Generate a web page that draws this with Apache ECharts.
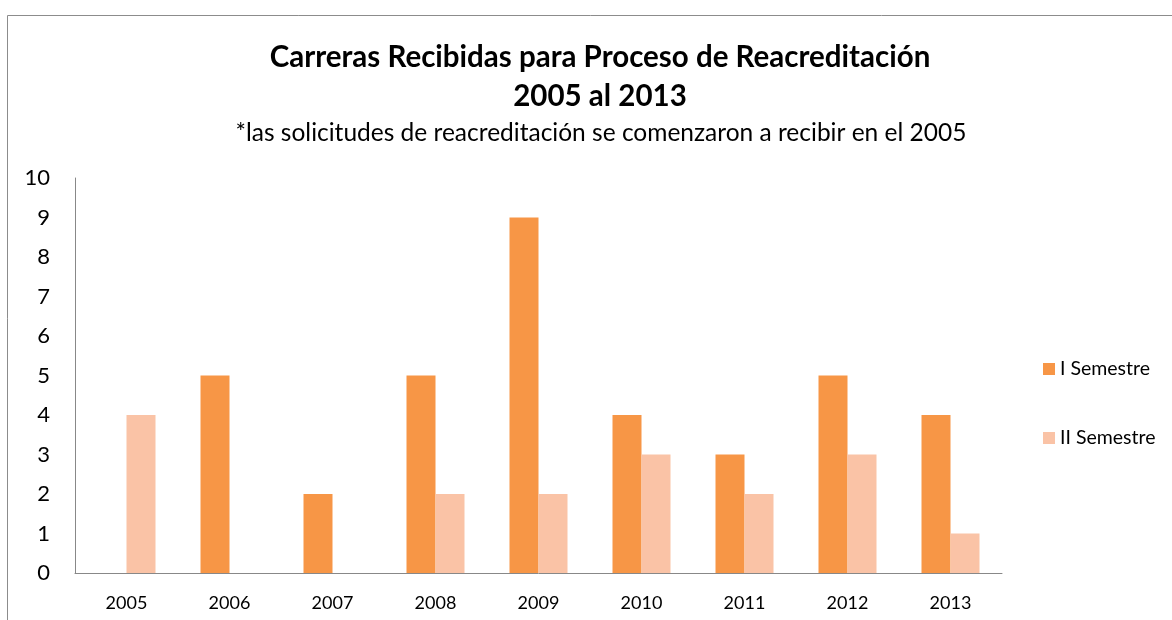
<!DOCTYPE html>
<html>
<head>
<meta charset="utf-8">
<script src="https://cdn.jsdelivr.net/npm/echarts@6/dist/echarts.min.js"></script>
<style>
  html, body { margin: 0; padding: 0; background: #fff; }
  #chart { width: 1172px; height: 620px; }
</style>
</head>
<body>
<div id="chart"></div>
<script>
// data
const years = ['2005', '2006', '2007', '2008', '2009', '2010', '2011', '2012', '2013'];
const semestre1 = [0, 5, 2, 5, 9, 4, 3, 5, 4];
const semestre2 = [4, 0, 0, 2, 2, 3, 2, 3, 1];
const seriesNames = ['I Semestre', 'II Semestre'];

const font = 'Lato';

const myChart = echarts.init(document.getElementById('chart'));

let option = {
  animation: false,
  textStyle: { fontFamily: font },
  graphic: [{
    type: 'rect',
    shape: { x: 7.5, y: 15.5, width: 1300, height: 800 },
    style: { fill: 'none', stroke: '#8c8c8c', lineWidth: 1 },
    silent: true
  }],
  title: [{
    text: 'Carreras Recibidas para Proceso de Reacreditación\n2005 al 2013',
    left: 595,
    top: 33,
    textAlign: 'center',
    textStyle: {
      fontFamily: font,
      fontSize: 29.5,
      fontWeight: 'bold',
      color: '#000',
      lineHeight: 39
    }
  }, {
    text: '*las solicitudes de reacreditación se comenzaron a recibir en el 2005',
    left: 596,
    top: 116,
    textAlign: 'center',
    textStyle: {
      fontFamily: font,
      fontSize: 24.5,
      fontWeight: 'normal',
      color: '#000'
    }
  }],
  legend: {
    orient: 'vertical',
    left: 1038,
    top: 354,
    itemWidth: 12,
    itemHeight: 12,
    itemGap: 49,
    icon: 'rect',
    data: seriesNames,
    textStyle: { fontFamily: font, fontSize: 19.5, color: '#000' }
  },
  grid: {
    left: 75,
    right: 170,
    top: 178,
    bottom: 47,
    containLabel: false
  },
  xAxis: {
    type: 'category',
    data: years,
    axisLine: { lineStyle: { color: '#888', width: 1 } },
    axisTick: { show: false },
    axisLabel: { fontFamily: font, fontSize: 18, color: '#000', margin: 21 }
  },
  yAxis: {
    type: 'value',
    min: 0,
    max: 10,
    interval: 1,
    splitLine: { show: false },
    axisLine: { show: true, lineStyle: { color: '#888', width: 1 } },
    axisTick: { show: false },
    axisLabel: { fontFamily: font, fontSize: 22, color: '#000', margin: 25 }
  },
  series: [{
    name: seriesNames[0],
    type: 'bar',
    data: semestre1,
    barWidth: 29,
    barGap: '0%',
    itemStyle: { color: '#F79646' }
  }, {
    name: seriesNames[1],
    type: 'bar',
    data: semestre2,
    barWidth: 29,
    barGap: '0%',
    itemStyle: { color: '#FAC3A6' }
  }]
};

myChart.setOption(option);
</script>
</body>
</html>
